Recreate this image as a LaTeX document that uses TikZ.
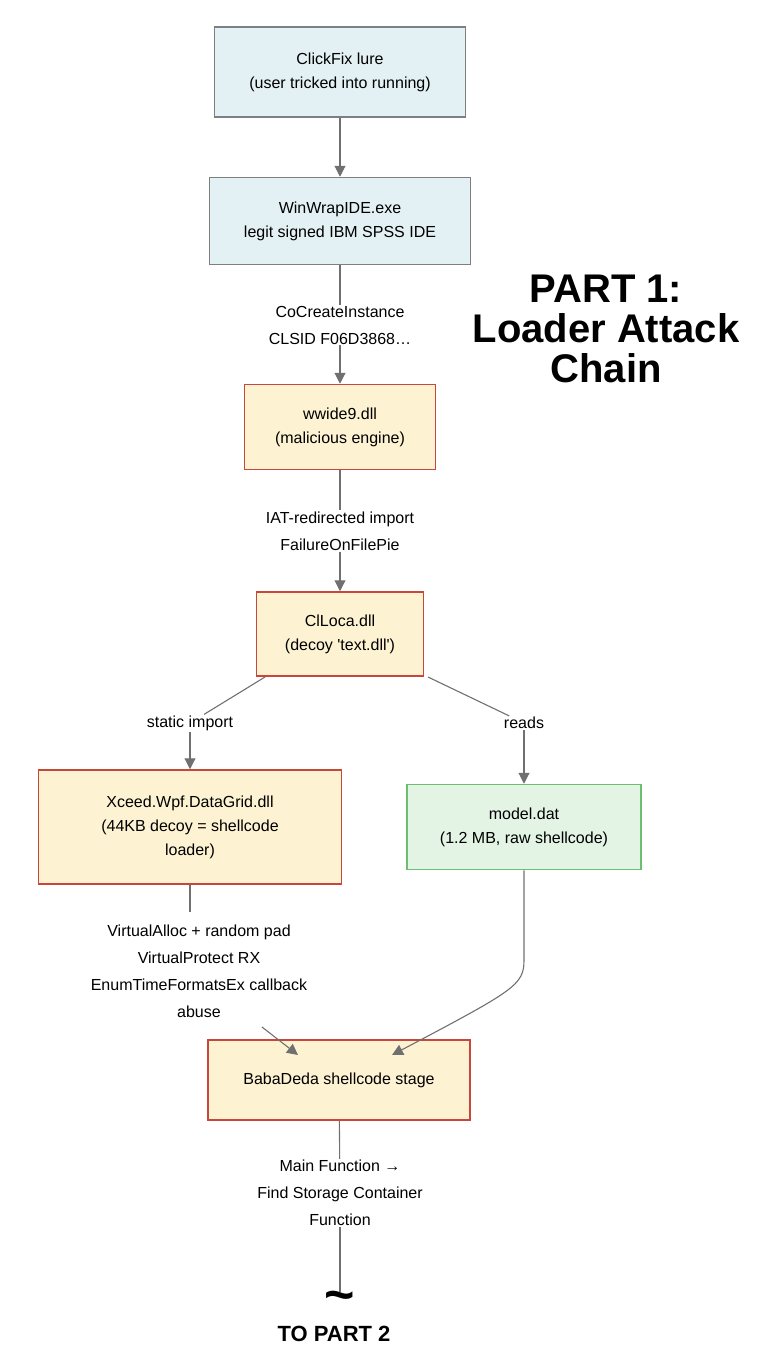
\documentclass[tikz,border=0pt]{standalone}
\usepackage{fontspec}
\setmainfont{Liberation Sans}
\usetikzlibrary{arrows.meta}
\definecolor{bluef}{HTML}{E4F1F4}
\definecolor{yelf}{HTML}{FDF2D2}
\definecolor{grnf}{HTML}{E3F4E5}
\definecolor{redb}{HTML}{C8463C}
\definecolor{grnb}{HTML}{6BBF72}
\definecolor{grayb}{HTML}{7F7F7F}
\definecolor{ln}{HTML}{707070}
\begin{document}
\begin{tikzpicture}[x=1pt,y=-1pt,
  box/.style={draw,line width=1.5pt,align=center,font=\fontsize{16}{24}\selectfont,inner sep=0},
  blue/.style={box,fill=bluef,draw=grayb},
  yel/.style={box,fill=yelf,draw=redb},
  grn/.style={box,fill=grnf,draw=grnb},
  lab/.style={align=center,font=\fontsize{16}{27}\selectfont,inner sep=1pt},
  ar/.style={draw=ln,line width=1.1pt,-{Triangle[length=11pt,width=11pt]}},
  li/.style={draw=ln,line width=1.1pt}]
\useasboundingbox (0,0) rectangle (768,1362);
\node[blue,minimum width=251,minimum height=90] (a) at (340,72) {ClickFix lure\\(user tricked into running)};
\node[blue,minimum width=261,minimum height=87] (b) at (340,221) {WinWrapIDE.exe\\legit signed IBM SPSS IDE};
\node[yel,minimum width=191,minimum height=85] (c) at (340,427) {wwide9.dll\\(malicious engine)};
\node[yel,minimum width=167,minimum height=84] (d) at (340,634) {ClLoca.dll\\(decoy \textquotesingle text.dll\textquotesingle)};
\node[yel,minimum width=303,minimum height=114] (e) at (190,827) {Xceed.Wpf.DataGrid.dll\\(44KB decoy = shellcode\\loader)};
\node[grn,minimum width=234,minimum height=85] (f) at (524,827) {model.dat\\(1.2 MB, raw shellcode)};
\node[yel,minimum width=262,minimum height=80] (g) at (339,1080) {BabaDeda shellcode stage};
\node[lab] (l1) at (340,325) {CoCreateInstance\\CLSID F06D3868…};
\node[lab] (l2) at (340,531) {IAT-redirected import\\FailureOnFilePie};
\node[lab] (l3) at (190,723) {static import};
\node[lab] (l4) at (524,723) {reads};
\node[lab] (l5) at (199,971) {VirtualAlloc + random pad\\VirtualProtect RX\\EnumTimeFormatsEx callback\\abuse};
\node[lab] (l6) at (340,1193) {Main Function →\\Find Storage Container\\Function};
\node[align=center,font=\bfseries\fontsize{40}{40}\selectfont] (t) at (606,329) {PART 1:\\Loader Attack\\Chain};
\node[font=\bfseries\fontsize{52}{52}\selectfont,inner sep=0] (tl) at (340,1302) {\char`~};
\node[font=\bfseries\fontsize{22}{22}\selectfont] (tp) at (334,1334) {TO PART 2};
\coordinate (c1) at (340,1292);
\draw[ar] (a) -- (b);
\draw[li] (b) -- (l1);
\draw[ar] (l1) -- (c);
\draw[li] (c) -- (l2);
\draw[ar] (l2) -- (d);
\draw[li] (265,677) -- (l3);
\draw[ar] (l3) -- (e);
\draw[li] (428,677) -- (l4);
\draw[ar] (l4) -- (f);
\draw[li] (e) -- (190,912);
\draw[ar] (262,1027) -- (298,1055);
\draw[ar] (f.south) -- (524,960) .. controls (524,985) and (515,990) .. (392,1055);
\draw[li] (g) -- (l6);
\draw[li] (l6) -- (c1);
\end{tikzpicture}
\end{document}
